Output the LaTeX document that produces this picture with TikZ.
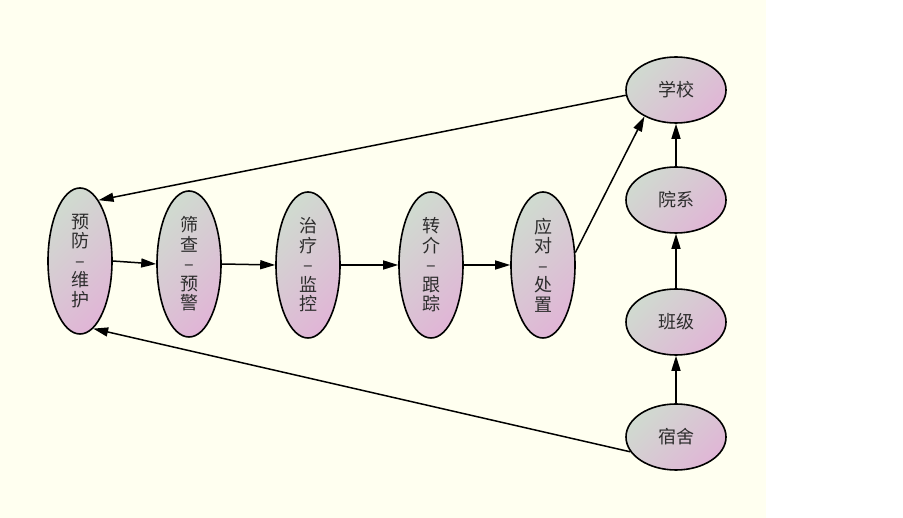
\documentclass[tikz,border=0pt]{standalone}
\usepackage{fontspec}
\setmainfont{Noto Sans CJK SC}
\usetikzlibrary{shapes.geometric,arrows.meta}
\definecolor{bgyellow}{RGB}{255,255,240}
\definecolor{shadeA}{RGB}{208,218,208}
\definecolor{shadeB}{RGB}{224,182,214}
\definecolor{txt}{RGB}{45,45,45}
\tikzset{
  blob/.style={ellipse, draw=black, line width=1.6pt, inner sep=0pt,
    top color=shadeA, bottom color=shadeB, shading angle=45,
    text=txt, font=\fontsize{18pt}{19.5pt}\selectfont, align=center},
  tall/.style={blob, minimum width=64pt, minimum height=146pt},
  wide/.style={blob, minimum width=100pt, minimum height=66pt},
  conn/.style={line width=1.5pt, -{Triangle[length=15pt,width=9pt]}}
}
\begin{document}
\begin{tikzpicture}[x=1pt,y=-1pt]
\useasboundingbox (0,0) rectangle (903,518);
\fill[bgyellow] (0,0) rectangle (766,518);
\node[tall] (yf) at (80,261) {预\\防\\–\\维\\护};
\node[tall] (sc) at (189,264) {筛\\查\\–\\预\\警};
\node[tall] (zl) at (308,265) {治\\疗\\–\\监\\控};
\node[tall] (zj) at (431,265) {转\\介\\–\\跟\\踪};
\node[tall] (yd) at (543,265) {应\\对\\–\\处\\置};
\node[wide] (xx) at (676,90) {学校};
\node[wide] (yx) at (676,200) {院系};
\node[wide] (bj) at (676,322) {班级};
\node[wide] (ss) at (676,437) {宿舍};
\draw[conn] (yf.east) -- (sc.west);
\draw[conn] (sc.east) -- (zl.west);
\draw[conn] (zl.east) -- (zj.west);
\draw[conn] (zj.east) -- (yd.west);
\draw[conn] (yd.21) -- (xx.220);
\draw[conn] (ss) -- (bj);
\draw[conn] (bj) -- (yx);
\draw[conn] (yx) -- (xx);
\draw[conn] (xx.186) -- (yf.73);
\draw[conn] (ss.198) -- (yf.-79);
\end{tikzpicture}
\end{document}
